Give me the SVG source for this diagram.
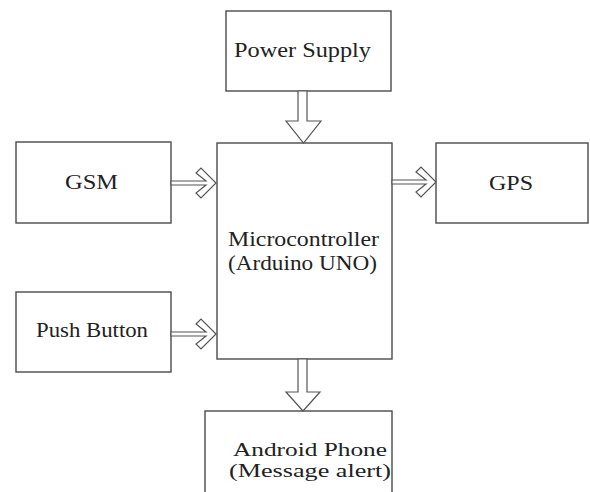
<svg xmlns="http://www.w3.org/2000/svg" width="590" height="492" viewBox="0 0 590 492">
<style>
.box{fill:#fff;stroke:#4a4a4a;stroke-width:1.4}
.arr{fill:#fff;stroke:#555;stroke-width:1.2;stroke-linejoin:miter}
.t{font-family:"Liberation Serif","Times New Roman",serif;font-size:20px;fill:#222}
.s{font-size:18px}
</style>
<rect width="590" height="492" fill="#fff"/>
<g id="power"><rect class="box" x="226" y="11" width="165" height="80"/><text class="t" x="234" y="57" textLength="137" lengthAdjust="spacingAndGlyphs">Power Supply</text></g>
<g id="micro"><rect class="box" x="217" y="143" width="175" height="216"/><text class="t" x="228" y="246" textLength="151" lengthAdjust="spacingAndGlyphs">Microcontroller</text><text class="t" x="228" y="270" textLength="149" lengthAdjust="spacingAndGlyphs">(Arduino UNO)</text></g>
<g id="gsm"><rect class="box" x="16" y="142" width="155" height="81"/><text class="t" x="65" y="189" textLength="53" lengthAdjust="spacingAndGlyphs">GSM</text></g>
<g id="gps"><rect class="box" x="436" y="143" width="152" height="80"/><text class="t" x="489" y="190" textLength="44" lengthAdjust="spacingAndGlyphs">GPS</text></g>
<g id="push"><rect class="box" x="16" y="292" width="155" height="80"/><text class="t" x="36" y="337" textLength="112" lengthAdjust="spacingAndGlyphs">Push Button</text></g>
<g id="android"><rect class="box" x="205" y="411" width="187" height="100"/><text class="t s" x="233" y="456" textLength="154" lengthAdjust="spacingAndGlyphs">Android Phone</text><text class="t s" x="229" y="477" textLength="162" lengthAdjust="spacingAndGlyphs">(Message alert)</text></g>
<g id="connectors">
<polygon class="arr" points="298,91 307,91 307,121 321,121 303.5,143 286,121 298,121"/>
<polygon class="arr" points="298,359 307,359 307,392 320,392 303,411 286,392 298,392"/>
<polygon class="arr" points="171,181 206,181 196,173 201,168 216,183 201,198 196,193 206,185 171,185"/>
<polygon class="arr" points="392,180 426,180 416,172 421,167 436,182 421,197 416,192 426,184 392,184"/>
<polygon class="arr" points="171,332 206,332 196,324 201,319 216,334 201,349 196,344 206,336 171,336"/>
</g>
</svg>
